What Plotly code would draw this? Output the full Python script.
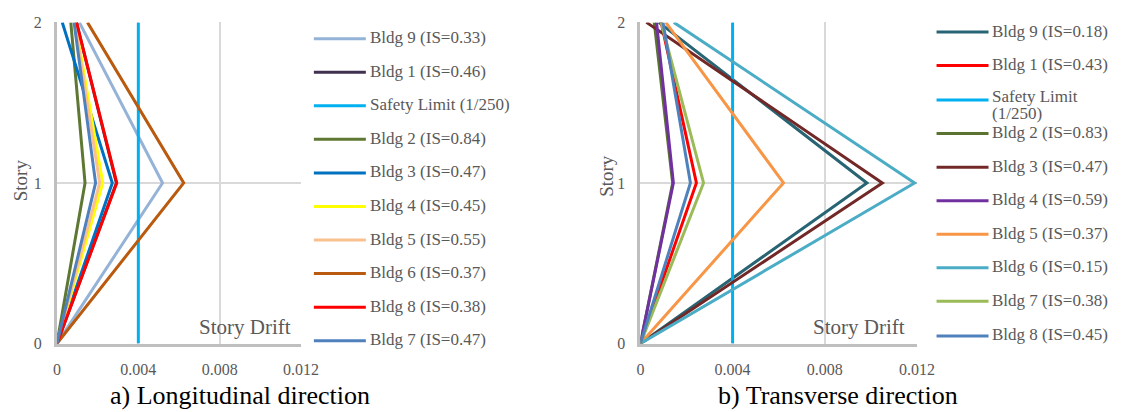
import plotly.graph_objects as go

W, H = 1134, 412

# ---------------- data ----------------
stories = [0, 1, 2]
safety_limit = 0.004
x_tickvals = [0, 0.004, 0.008, 0.012]
x_ticktext = ["0", "0.004", "0.008", "0.012"]
y_tickvals = [0, 1, 2]

# a) Longitudinal direction (drift at story 0, 1, 2)
long_labels = ["Bldg 9 (IS=0.33)", "Bldg 1 (IS=0.46)", "Safety Limit (1/250)",
               "Bldg 2 (IS=0.84)", "Bldg 3 (IS=0.47)", "Bldg 4 (IS=0.45)",
               "Bldg 5 (IS=0.55)", "Bldg 6 (IS=0.37)", "Bldg 8 (IS=0.38)",
               "Bldg 7 (IS=0.47)"]
long_bldg9 = [0, 0.00519, 0.0011]
long_bldg1 = [0, 0.00292, 0.00096]
long_bldg2 = [0, 0.00138, 0.00068]
long_bldg3 = [0, 0.00272, 0.00026]
long_bldg4 = [0, 0.00225, 0.0009]
long_bldg5 = [0, 0.0021, 0.00088]
long_bldg6 = [0, 0.00623, 0.0015]
long_bldg8 = [0, 0.00294, 0.00096]
long_bldg7 = [0, 0.0019, 0.00084]

# b) Transverse direction
tran_labels = ["Bldg 9 (IS=0.18)", "Bldg 1 (IS=0.43)", "Safety Limit<br>(1/250)",
               "Bldg 2 (IS=0.83)", "Bldg 3 (IS=0.47)", "Bldg 4 (IS=0.59)",
               "Bldg 5 (IS=0.37)", "Bldg 6 (IS=0.15)", "Bldg 7 (IS=0.38)",
               "Bldg 8 (IS=0.45)"]
tran_bldg9 = [0, 0.00983, 0.0008]
tran_bldg1 = [0, 0.00243, 0.0009]
tran_bldg2 = [0, 0.0014, 0.0006]
tran_bldg3 = [0, 0.0105, 0.00026]
tran_bldg4 = [0, 0.00143, 0.0007]
tran_bldg5 = [0, 0.00621, 0.0011]
tran_bldg6 = [0, 0.0119, 0.00145]
tran_bldg7 = [0, 0.00274, 0.0009]
tran_bldg8 = [0, 0.00217, 0.00098]

SAFE = None  # marker for the safety-limit series
long_series = [long_bldg9, long_bldg1, SAFE, long_bldg2, long_bldg3, long_bldg4,
               long_bldg5, long_bldg6, long_bldg8, long_bldg7]
tran_series = [tran_bldg9, tran_bldg1, SAFE, tran_bldg2, tran_bldg3, tran_bldg4,
               tran_bldg5, tran_bldg6, tran_bldg7, tran_bldg8]

# ---------------- styles ----------------
long_colors = ["#95B3D7", "#403151", "#00B0F0", "#5E7733", "#0070C0", "#FFFF00",
               "#FAC090", "#B95A0F", "#FF0000", "#4F81BD"]
tran_colors = ["#286473", "#FF0000", "#00B0F0", "#5A7330", "#732828", "#7030A0",
               "#F79646", "#4BACC6", "#9BBB59", "#4F81BD"]

SERIF = "Liberation Serif"
TEXT_GRAY = "#595959"
TICK_FONT = dict(family=SERIF, size=16, color=TEXT_GRAY)
LEG_SIZE = 17
GRID = "#D9D9D9"
AXLINE = "#BFBFBF"
LW = 3

fig = go.Figure()

def add_panel(series, labels, colors, xa, ya):
    for vals, lab, col in zip(series, labels, colors):
        if vals is None:
            xs, ys = [safety_limit, safety_limit], [stories[0], stories[-1]]
        else:
            xs, ys = vals, stories
        fig.add_trace(go.Scatter(x=xs, y=ys, mode="lines", name=lab,
                                 line=dict(color=col, width=LW),
                                 xaxis=xa, yaxis=ya, showlegend=False,
                                 hoverinfo="skip"))

add_panel(long_series, long_labels, long_colors, "x", "y")
add_panel(tran_series, tran_labels, tran_colors, "x2", "y2")

def fx(p):
    return p / W

def fy(p):
    return 1 - p / H

ydom = [fy(350), fy(15)]
axis_common = dict(range=[0, 0.012], tickvals=x_tickvals, ticktext=x_ticktext,
                   showgrid=True, gridcolor=GRID, gridwidth=1.5, zeroline=False,
                   showline=True, linecolor=AXLINE, linewidth=2.5,
                   ticks="outside", ticklen=9, tickcolor="rgba(0,0,0,0)",
                   tickfont=TICK_FONT, fixedrange=True)
yaxis_common = dict(range=[0, 2], tickvals=y_tickvals, showgrid=True,
                    gridcolor=GRID, gridwidth=1.5, zeroline=False,
                    showline=True, linecolor=AXLINE, linewidth=3,
                    ticks="outside", ticklen=9, tickcolor="rgba(0,0,0,0)",
                    tickfont=TICK_FONT, domain=ydom, fixedrange=True)

fig.update_layout(
    width=W, height=H, margin=dict(l=0, r=0, t=0, b=0),
    paper_bgcolor="white", plot_bgcolor="white",
    xaxis=dict(domain=[fx(54), fx(303)], anchor="y", **axis_common),
    yaxis=dict(anchor="x", **yaxis_common),
    xaxis2=dict(domain=[fx(649), fx(931)], anchor="y2", **axis_common),
    yaxis2=dict(anchor="x2", **yaxis_common),
    showlegend=False,
)

annotations = []
shapes = []

# axis titles and in-plot labels
for sx, sy in [(17, 180), (615, 175)]:
    annotations.append(dict(text="Story", textangle=-90, xref="paper", yref="paper",
                            x=fx(sx), y=fy(sy), xanchor="center", yanchor="middle",
                            showarrow=False,
                            font=dict(family=SERIF, size=19, color=TEXT_GRAY)))
for xd, yd, rx in [("x domain", "y domain", 0.968), ("x2 domain", "y2 domain", 0.965)]:
    annotations.append(dict(text="Story Drift", xref=xd, yref=yd, x=rx, y=0.05,
                            xanchor="right", yanchor="middle", showarrow=False,
                            font=dict(family=SERIF, size=21, color=TEXT_GRAY)))

# captions
for txt, cx in [("a) Longitudinal direction", 241), ("b) Transverse direction", 850)]:
    annotations.append(dict(text=txt, xref="paper", yref="paper", x=fx(cx), y=fy(404),
                            xanchor="center", yanchor="middle", showarrow=False,
                            borderpad=0,
                            font=dict(family=SERIF, size=26, color="black")))

# legends (drawn beside each panel); wrapped labels are set line by line
def add_legend(labels, colors, line_x0, line_x1, text_x, ys):
    for lab, col, yy in zip(labels, colors, ys):
        shapes.append(dict(type="line", xref="paper", yref="paper",
                           x0=fx(line_x0), x1=fx(line_x1), y0=fy(yy), y1=fy(yy),
                           line=dict(color=col, width=LW)))
        parts = lab.split("<br>")
        for k, part in enumerate(parts):
            yc = yy - 1 - (3 if len(parts) > 1 else 0) + 18 * k
            annotations.append(dict(text=part, xref="paper", yref="paper",
                                    x=fx(text_x), y=fy(yc),
                                    xanchor="left", yanchor="middle",
                                    align="left", showarrow=False, borderpad=0,
                                    font=dict(family=SERIF, size=LEG_SIZE,
                                              color=TEXT_GRAY)))

add_legend(long_labels, long_colors, 316, 369, 372,
           [32, 67, 102, 137, 172, 207, 242, 277, 312, 347])
add_legend(tran_labels, tran_colors, 951, 1004, 1007,
           [25, 60, 96, 131, 166, 201, 236, 271, 306, 342])

fig.update_layout(annotations=annotations, shapes=shapes)

fig.write_html("out.html")
